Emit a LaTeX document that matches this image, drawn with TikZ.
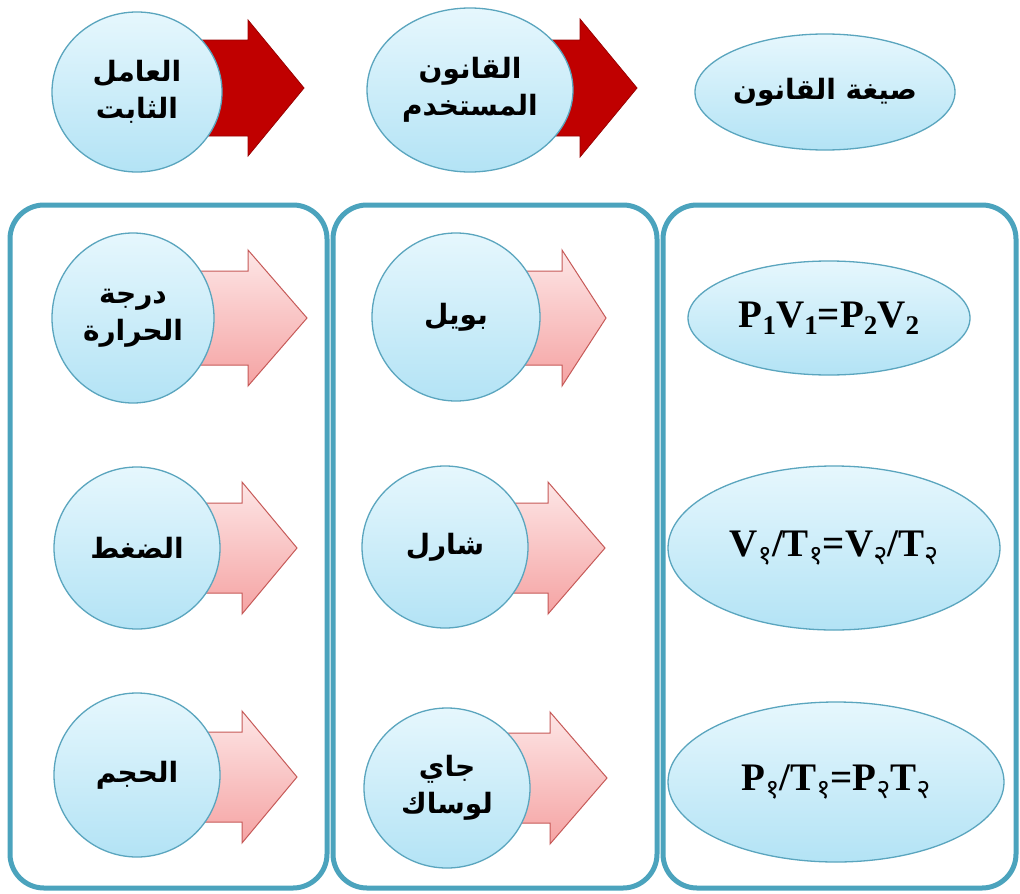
\documentclass[tikz,border=0pt]{standalone}
\usepackage{fontspec}
\setmainfont{Liberation Serif}
\newfontfamily\arfont[Script=Arabic]{DejaVu Sans}
\newfontfamily\devafont[Script=Devanagari]{Noto Sans}
\TeXXeTstate=1
\usetikzlibrary{shapes.geometric}
\definecolor{panelc}{HTML}{4BA3BD}
\definecolor{bubedge}{HTML}{5AA5BE}
\definecolor{bubtop}{HTML}{E6F7FD}
\definecolor{bubbot}{HTML}{B3E3F5}
\definecolor{darkred}{HTML}{C00000}
\definecolor{darkredge}{HTML}{9A0000}
\definecolor{pinktop}{HTML}{FDE6E6}
\definecolor{pinkbot}{HTML}{F5A3A3}
\definecolor{pinkedge}{HTML}{C65A58}
\newcommand\sbs[1]{\raisebox{-0.4ex}{\fontsize{27}{27}\selectfont #1}}
\newcommand\dsb[1]{\raisebox{-0.4ex}{\fontsize{27}{27}\selectfont\devafont\bfseries #1}}
\newcommand\blockarrow[7]{%
  \path[#1] (#2,{#5-#6}) -- (#3,{#5-#6}) -- (#3,{#5-#7}) -- (#4,#5) -- (#3,{#5+#7}) -- (#3,{#5+#6}) -- (#2,{#5+#6}) -- cycle;}
\tikzset{
  panel/.style={draw=panelc, line width=5pt, rounded corners=34pt},
  bub/.style={ellipse, draw=bubedge, line width=1.3pt, top color=bubtop, bottom color=bubbot, inner sep=0pt, align=center, font=\arfont\bfseries\fontsize{28}{37}\selectfont},
  frm/.style={ellipse, draw=bubedge, line width=1.3pt, top color=bubtop, bottom color=bubbot, inner sep=0pt, font=\bfseries\fontsize{39}{44}\selectfont},
  redarrow/.style={fill=darkred, draw=darkredge, line width=0.8pt, line join=miter},
  pinkarrow/.style={top color=pinktop, bottom color=pinkbot, draw=pinkedge, line width=1pt, line join=miter}
}
\begin{document}
\begin{tikzpicture}[x=1pt,y=-1pt]
\useasboundingbox (0,0) rectangle (1020,894);
\fill[white] (0,0) rectangle (1020,894);
% panels
\draw[panel] (10,205) rectangle (327,888);
\draw[panel] (333,205) rectangle (657,888);
\draw[panel] (663,205) rectangle (1016,888);
% top arrows
\blockarrow{redarrow}{150}{248}{304}{88}{48}{68}
\blockarrow{redarrow}{480}{580}{637}{88}{48}{69}
% row arrows left
\blockarrow{pinkarrow}{150}{248}{307}{318}{47}{68}
\blockarrow{pinkarrow}{150}{242}{297}{548}{45}{66}
\blockarrow{pinkarrow}{150}{242}{297}{777}{45}{66}
% row arrows middle
\blockarrow{pinkarrow}{460}{562}{606}{318}{47}{68}
\blockarrow{pinkarrow}{460}{548}{605}{548}{45}{66}
\blockarrow{pinkarrow}{460}{550}{607}{778}{45}{66}
% top bubbles
\node[bub, minimum width=170pt, minimum height=160pt] (c1) at (137,92) {\beginR العامل\endR\\\beginR الثابت\endR};
\node[bub, minimum width=206pt, minimum height=164pt] (c2) at (470,90) {\beginR القانون\endR\\\beginR المستخدم\endR};
\node[bub, minimum width=260pt, minimum height=116pt] (c3) at (825,92) {\beginR صيغة القانون\endR};
% left column
\node[bub, minimum width=162pt, minimum height=170pt] (l1) at (133,318) {\beginR درجة\endR\\\beginR الحرارة\endR};
\node[bub, minimum width=166pt, minimum height=162pt] (l2) at (137,548) {\beginR الضغط\endR};
\node[bub, minimum width=166pt, minimum height=164pt] (l3) at (137,775) {\beginR الحجم\endR};
% middle column
\node[bub, minimum width=168pt, minimum height=168pt] (m1) at (456,317) {\beginR بويل\endR};
\node[bub, minimum width=166pt, minimum height=162pt] (m2) at (445,547) {\beginR شارل\endR};
\node[bub, minimum width=166pt, minimum height=160pt] (m3) at (447,788) {\beginR جاي\endR\\\beginR لوساك\endR};
% right column
\node[frm, minimum width=282pt, minimum height=114pt] (f1) at (829,318) {P\sbs{1}V\sbs{1}=P\sbs{2}V\sbs{2}};
\node[frm, minimum width=332pt, minimum height=164pt] (f2) at (834,548) {V\dsb{१}/T\dsb{१}=V\dsb{२}/T\dsb{२}};
\node[frm, minimum width=336pt, minimum height=160pt] (f3) at (836,782) {P\dsb{१}/T\dsb{१}=P\dsb{२}T\dsb{२}};
\end{tikzpicture}
\end{document}
